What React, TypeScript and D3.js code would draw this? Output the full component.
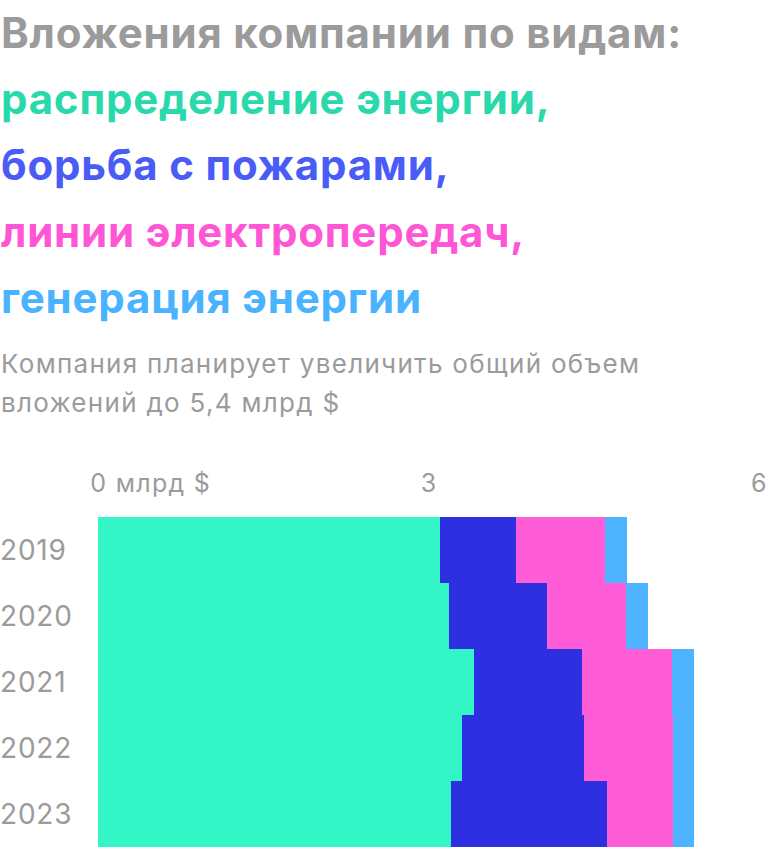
import { useEffect, useRef } from "react";
import * as d3 from "d3";

/* ---------- data (млрд $) ---------- */

const years = ["2019", "2020", "2021", "2022", "2023"];
const distribution = [3.1, 3.19, 3.41, 3.3, 3.2];
const fireFighting = [0.69, 0.89, 0.98, 1.11, 1.42];
const powerLines = [0.81, 0.71, 0.82, 0.81, 0.6];
const generation = [0.2, 0.2, 0.2, 0.19, 0.19];

const xTicks = [0, 3, 6];

const seriesKeys = ["distribution", "fireFighting", "powerLines", "generation"];
const barColors = ["#34F5C5", "#2F2FE2", "#FF5CD7", "#4FB4FF"];

const titleLines = [
  { text: "Вложения компании по видам:", color: "#9B9B9B" },
  { text: "распределение энергии,", color: "#2AD9AB" },
  { text: "борьба с пожарами,", color: "#4A5CF6" },
  { text: "линии электропередач,", color: "#FF56D6" },
  { text: "генерация энергии", color: "#4AB3FF" },
];
const subtitleLines = [
  "Компания планирует увеличить общий объем",
  "вложений до 5,4 млрд $",
];

const W = 768;
const H = 847;
const FONT = "Inter, 'Noto Sans', sans-serif";

export default function App() {
  const svgRef = useRef<SVGSVGElement>(null);

  useEffect(() => {
    const svg = d3.select(svgRef.current);
    svg.selectAll("*").remove();

    const table = years.map((year, i) => ({
      year,
      distribution: distribution[i],
      fireFighting: fireFighting[i],
      powerLines: powerLines[i],
      generation: generation[i],
    }));

    const x = d3.scaleLinear().domain([0, 6]).range([98, 759]);
    const y = d3.scaleBand().domain(years).range([517, 847]).padding(0);
    const color = d3.scaleOrdinal<string, string>().domain(seriesKeys).range(barColors);

    // Title
    const titleY = [48, 114, 180, 247, 313];
    svg
      .append("g")
      .selectAll("text")
      .data(titleLines)
      .join("text")
      .attr("x", 1)
      .attr("y", (_, i) => titleY[i])
      .attr("font-family", FONT)
      .attr("font-weight", 700)
      .attr("font-size", 42)
      .attr("letter-spacing", "0.8px")
      .attr("fill", (d) => d.color)
      .text((d) => d.text);

    // Subtitle
    svg
      .append("g")
      .selectAll("text")
      .data(subtitleLines)
      .join("text")
      .attr("x", 1)
      .attr("y", (_, i) => 373 + i * 39)
      .attr("font-family", FONT)
      .attr("font-size", 26)
      .attr("letter-spacing", "1.3px")
      .attr("fill", "#9B9B9B")
      .text((d) => d);

    // Stacked bars
    const stacked = d3.stack<any>().keys(seriesKeys)(table);
    svg
      .append("g")
      .selectAll("g")
      .data(stacked)
      .join("g")
      .attr("fill", (d) => color(d.key))
      .selectAll("rect")
      .data((d) => d)
      .join("rect")
      .attr("x", (d) => x(d[0]))
      .attr("y", (d) => y(d.data.year)!)
      .attr("width", (d) => x(d[1]) - x(d[0]))
      .attr("height", y.bandwidth())
      .attr("shape-rendering", "crispEdges");

    // Top axis
    const axis = svg
      .append("g")
      .attr("transform", "translate(0,492)")
      .call(
        d3
          .axisTop(x)
          .tickValues(xTicks)
          .tickSize(0)
          .tickPadding(0)
          .tickFormat((d) => (d === 0 ? "0 млрд $" : String(d))),
      );
    axis.select(".domain").remove();
    axis
      .selectAll("text")
      .attr("font-family", FONT)
      .attr("font-size", 25)
      .attr("letter-spacing", "1.3px")
      .attr("fill", "#9B9B9B")
      .attr("dy", 0)
      .attr("text-anchor", (d) => (d === 0 ? "start" : "middle"))
      .attr("dx", (d) => (d === 0 ? "-0.33em" : 0));

    // Year labels
    svg
      .append("g")
      .selectAll("text")
      .data(years)
      .join("text")
      .attr("x", 0)
      .attr("y", (d) => y(d)! + y.bandwidth() / 2 + 10)
      .attr("font-family", FONT)
      .attr("font-size", 28)
      .attr("letter-spacing", "0.8px")
      .attr("fill", "#9B9B9B")
      .text((d) => d);
  }, []);

  return (
    <svg
      ref={svgRef}
      width={W}
      height={H}
      style={{ position: "absolute", left: 0, top: 0, display: "block", background: "#fff" }}
    />
  );
}
